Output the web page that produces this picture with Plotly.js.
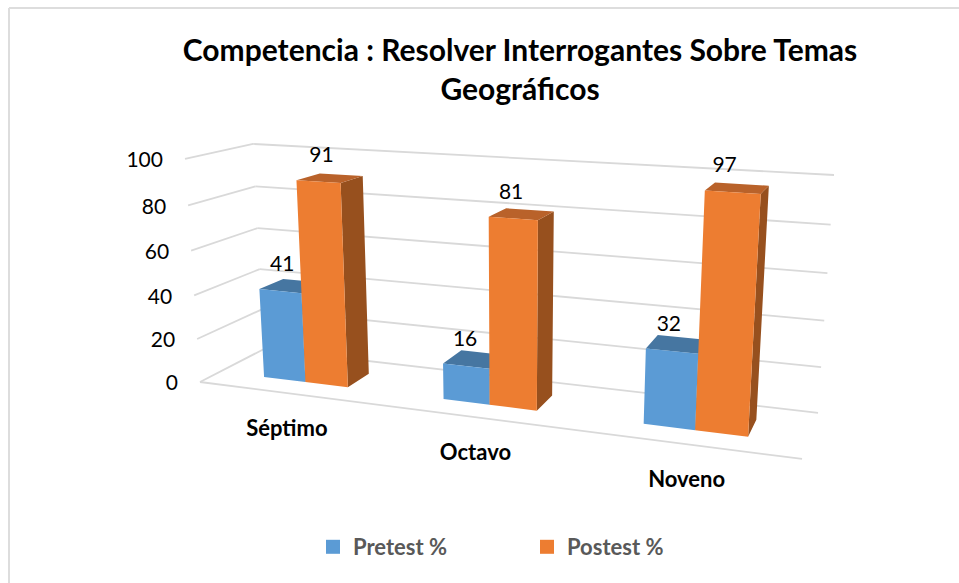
<!DOCTYPE html>
<html>
<head>
<meta charset="utf-8">
<script src="https://cdn.plot.ly/plotly-3.0.1.min.js"></script>
<style>html,body{margin:0;padding:0;background:#fff;overflow:hidden}#chart{width:959px;height:583px}</style>
</head>
<body>
<div id="chart"></div>
<script>
const categories = ['Séptimo', 'Octavo', 'Noveno'];
const pretest = [41, 16, 32];
const postest = [91, 81, 97];
const yTicks = [0, 20, 40, 60, 80, 100];
const seriesNames = ['Pretest %', 'Postest %'];
const titleText = 'Competencia : Resolver Interrogantes Sobre Temas<br>Geográficos';

// label nudges (px) and palette
const pretestLabelDx = [2, -1, -3];
const postestLabelDx = [3, -2, -8];
const preFront = '#5B9BD5', preTop = '#4676A1', preSide = '#3F6E99';
const postFront = '#ED7D31', postTop = '#B9622A', postSide = '#97501E';
const gridColor = '#D9D9D9';

// Projective view of the (category, depth, value) box, from its three vanishing points
const O = [200, 382], VPu = [-3040, -32], VPw = [966, -13], VPh = [511, 5000];
const ka = -0.1567, kb = 0.0912, kc = -0.04607;
function proj(u, w, h) {
  const d = 1 + ka*u + kb*w + kc*h;
  return [
    (O[0] + ka*u*VPu[0] + kb*w*VPw[0] + kc*h*VPh[0]) / d,
    (O[1] + ka*u*VPu[1] + kb*w*VPw[1] + kc*h*VPh[1]) / d
  ];
}
const barU = 0.08, wFront = 0.3, wBack = 0.68;
const catCentre = i => (i + 0.5) / categories.length;

function polys(faces) {
  const x = [], y = [];
  faces.forEach(f => { f.forEach(p => { const q = proj(p[0], p[1], p[2]); x.push(q[0]); y.push(q[1]); });
    const q0 = proj(f[0][0], f[0][1], f[0][2]); x.push(q0[0], null); y.push(q0[1], null); });
  return {x, y};
}
function faceTrace(vals, offset, face, color, name) {
  const faces = vals.map((v, i) => {
    const a = catCentre(i) + offset, b = a + barU, h = v / 100;
    if (face === 'front') return [[a,wFront,0],[b,wFront,0],[b,wFront,h],[a,wFront,h]];
    if (face === 'side')  return [[b,wFront,0],[b,wBack,0],[b,wBack,h],[b,wFront,h]];
    return [[a,wFront,h],[b,wFront,h],[b,wBack,h],[a,wBack,h]];
  });
  const g = polys(faces);
  return {type:'scatter', mode:'lines', x:g.x, y:g.y, fill:'toself', fillcolor:color,
          line:{width:0, color:color}, name:name, showlegend:false, hoverinfo:'skip'};
}
function seg(a, b) { const p = proj.apply(null, a), q = proj.apply(null, b); return [p, q]; }

// Gridlines
const gx = [], gy = [];
yTicks.forEach(t => {
  const h = t / 100;
  [[[0,0,h],[0,1,h]], [[0,1,h],[1,1,h]]].forEach(s => {
    const r = seg(s[0], s[1]);
    gx.push(r[0][0], r[1][0], null); gy.push(r[0][1], r[1][1], null);
  });
});
const fr = seg([0,0,0],[1,0,0]);
gx.push(fr[0][0], fr[1][0], null); gy.push(fr[0][1], fr[1][1], null);

const traces = [];
traces.push({type:'scatter', mode:'lines', x:gx, y:gy, line:{color:gridColor, width:1.8}, showlegend:false, hoverinfo:'skip'});
traces.push(faceTrace(pretest, -barU, 'side', preSide, 'Pretest side'));
traces.push(faceTrace(pretest, -barU, 'top', preTop, 'Pretest top'));
traces.push(faceTrace(pretest, -barU, 'front', preFront, seriesNames[0]));
traces.push(faceTrace(postest, 0, 'side', postSide, 'Postest side'));
traces.push(faceTrace(postest, 0, 'top', postTop, 'Postest top'));
traces.push(faceTrace(postest, 0, 'front', postFront, seriesNames[1]));

// Data labels
function labelTrace(vals, offset, dxs) {
  const pts = vals.map((v, i) => proj(catCentre(i) + offset + barU/2, wFront, v/100));
  return {type:'scatter', mode:'text', x:pts.map((p,i)=>p[0]+dxs[i]), y:pts.map(p=>p[1]-25),
    text:vals.map(String), textposition:'middle center',
    textfont:{family:'Lato, sans-serif', size:21, color:'#000000'}, showlegend:false, hoverinfo:'skip'};
}
traces.push(labelTrace(pretest, -barU, pretestLabelDx));
traces.push(labelTrace(postest, 0, postestLabelDx));

// Value axis labels
const tickPts = yTicks.map(t => proj(0, 0, t/100));
traces.push({type:'scatter', mode:'text', x:tickPts.map(p=>p[0]-22), y:tickPts.map(p=>p[1]+3),
  text:yTicks.map(String), textposition:'middle left',
  textfont:{family:'Lato, sans-serif', size:21, color:'#000000'}, showlegend:false, hoverinfo:'skip'});

// Category labels
const catPts = categories.map((c, i) => proj(catCentre(i), 0, 0));
traces.push({type:'scatter', mode:'text', x:catPts.map(p=>p[0]), y:catPts.map(p=>p[1]+37),
  text:categories, textposition:'middle center',
  textfont:{family:'Lato, sans-serif', size:22, color:'#000000', weight:700}, showlegend:false, hoverinfo:'skip'});

// Legend keys
traces.push({type:'scatter', mode:'markers', x:[null], y:[null], name:seriesNames[0],
  marker:{symbol:'square', size:14, color:preFront}, hoverinfo:'skip'});
traces.push({type:'scatter', mode:'markers', x:[null], y:[null], name:seriesNames[1],
  marker:{symbol:'square', size:14, color:postFront}, hoverinfo:'skip'});

const layout = {
  width:959, height:583, autosize:false,
  margin:{l:0,r:0,t:0,b:0,pad:0},
  paper_bgcolor:'#ffffff', plot_bgcolor:'#ffffff',
  xaxis:{range:[0,959], visible:false, fixedrange:true},
  yaxis:{range:[583,0], visible:false, fixedrange:true},
  title:{text:titleText, font:{family:'Lato, sans-serif', size:30, color:'#000000', weight:700},
         x:520/959, xanchor:'center', y:1-60.5/583, yanchor:'middle'},
  legend:{orientation:'h', x:313/959, xanchor:'left', y:1-547/583, yanchor:'middle',
          entrywidth:169, entrywidthmode:'pixels', itemwidth:30,
          font:{family:'Lato, sans-serif', size:22, color:'#595959', weight:700},
          bgcolor:'rgba(0,0,0,0)'},
  shapes:[
    {type:'line', xref:'x', yref:'y', x0:9, y0:8, x1:959, y1:8, line:{color:'#DDDDDD', width:2}, layer:'below'},
    {type:'line', xref:'x', yref:'y', x0:9, y0:8, x1:9, y1:583, line:{color:'#DDDDDD', width:2}, layer:'below'}
  ],
  showlegend:true
};
Plotly.newPlot('chart', traces, layout, {displayModeBar:false, staticPlot:true});
</script>
</body>
</html>
